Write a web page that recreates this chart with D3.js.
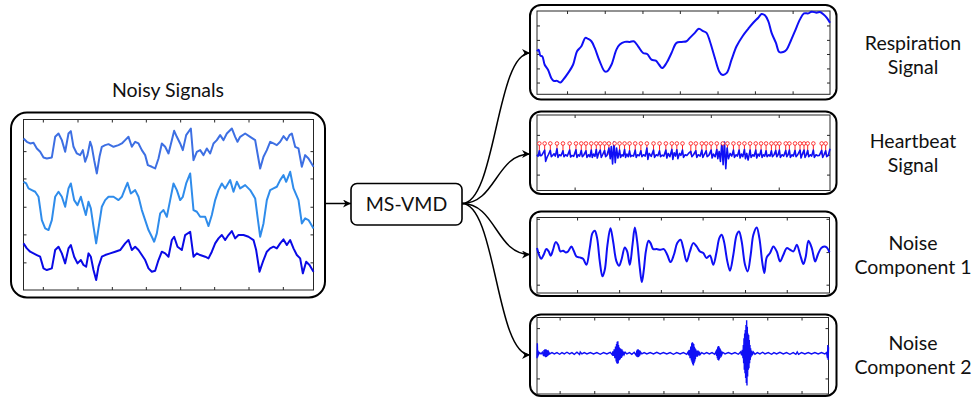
<!DOCTYPE html>
<html>
<head>
<meta charset="utf-8">
<script src="https://cdn.jsdelivr.net/npm/d3@7"></script>
<style>
  body { margin: 0; background: #fff; }
  svg { display: block; }
  text { font-family: Lato, "Open Sans", sans-serif; fill: #111; }
</style>
</head>
<body>
<svg id="chart" width="974" height="397"></svg>
<script>
// ---- data (arbitrary units, sample index on x) ----

// noisy input signals (left panel)
const noisyTicksX = [128, 232, 335, 437, 540, 642, 745, 848];
const noisyTicksY = [83, 167, 250, 335, 417];
const noisy1 = [[70,455],[80,445],[90,440],[100,442],[110,425],[120,415],[130,398],[140,395],[155,398],[165,460],[175,470],[185,450],[195,415],[205,470],[212,477],[220,430],[230,410],[240,405],[248,420],[255,385],[262,405],[270,445],[275,430],[282,390],[290,350],[298,400],[305,430],[315,435],[325,438],[340,430],[355,435],[365,440],[375,450],[385,460],[395,430],[405,445],[415,440],[425,420],[435,405],[443,375],[455,370],[465,365],[475,395],[485,440],[495,430],[505,410],[515,450],[522,478],[530,460],[540,440],[548,420],[558,465],[572,485],[580,390],[590,415],[600,420],[610,405],[620,425],[630,410],[640,440],[650,450],[660,465],[670,450],[680,470],[695,485],[705,460],[712,445],[720,460],[735,470],[750,460],[765,450],[772,410],[780,365],[790,400],[800,420],[810,445],[820,440],[830,435],[840,445],[850,462],[860,450],[868,465],[875,470],[885,430],[895,425],[905,370],[915,405],[925,395],[940,370]];
const noisy2 = [[70,325],[78,320],[85,305],[95,300],[105,295],[115,280],[125,210],[135,185],[145,180],[155,210],[165,280],[175,295],[185,280],[195,250],[205,305],[212,320],[222,270],[232,255],[242,280],[250,250],[257,225],[265,265],[272,245],[280,190],[288,140],[295,185],[305,250],[315,270],[325,280],[340,280],[355,270],[365,280],[375,305],[382,322],[392,290],[405,300],[415,280],[425,240],[435,210],[445,180],[455,160],[462,145],[470,170],[480,230],[490,240],[500,220],[510,270],[520,320],[530,300],[540,270],[548,280],[558,320],[570,350],[580,240],[590,235],[600,220],[615,220],[625,192],[635,225],[645,270],[655,300],[665,320],[675,305],[690,330],[700,295],[710,325],[720,305],[735,315],[750,300],[765,275],[772,220],[780,160],[790,200],[800,270],[810,300],[820,305],[830,310],[840,330],[850,345],[858,325],[870,355],[880,305],[895,270],[905,200],[915,215],[925,210],[940,185]];
const noisy3 = [[70,140],[80,125],[90,115],[100,110],[110,105],[120,100],[130,65],[140,60],[155,65],[165,120],[175,130],[185,110],[195,80],[205,125],[212,135],[222,100],[232,80],[242,90],[250,75],[258,70],[265,110],[272,100],[280,60],[288,30],[295,70],[305,100],[315,105],[330,110],[345,115],[360,120],[375,140],[385,150],[395,120],[405,130],[415,120],[425,105],[435,90],[445,65],[455,55],[465,58],[475,90],[485,115],[495,110],[505,100],[515,150],[522,160],[532,130],[545,120],[555,165],[570,175],[580,100],[590,110],[600,105],[615,100],[625,95],[635,115],[645,140],[655,155],[665,165],[675,150],[685,165],[695,177],[705,155],[715,165],[730,165],[745,160],[760,150],[768,120],[778,55],[790,90],[800,115],[810,125],[820,130],[830,125],[840,140],[850,152],[860,135],[870,150],[880,125],[890,105],[900,95],[908,50],[918,85],[928,75],[940,55]];

// respiration signal
const respTicksX = [142, 255, 368, 480, 593, 705, 818];
const respTicksY = [35, 77, 120, 162, 205];
const resp = [[52,128],[57,133],[62,115],[68,113],[75,88],[85,73],[95,48],[102,40],[112,40],[122,35],[130,43],[145,63],[160,88],[172,128],[185,143],[197,168],[205,165],[215,158],[225,138],[240,98],[255,68],[262,68],[275,88],[290,133],[300,148],[315,156],[330,156],[342,158],[355,143],[370,123],[382,120],[395,103],[408,100],[418,88],[427,78],[440,93],[455,123],[470,153],[485,156],[500,158],[510,168],[525,183],[537,195],[550,188],[560,183],[570,158],[585,108],[598,68],[607,58],[620,63],[635,103],[650,143],[668,173],[685,195],[700,213],[715,228],[725,239],[735,235],[745,218],[755,183],[768,153],[778,126],[790,126],[800,133],[812,158],[825,188],[840,223],[852,241],[865,241],[875,246],[890,243],[900,245],[910,238],[920,228],[930,213]];

// heartbeat signal and detected peaks
const heartTicksX = [163, 368, 572, 776];
const heartTicksY = [-60, 0, 60];
const heart = [[50,0],[53,-5],[57,12],[60,-3],[64,-2],[68,5],[73,14],[76,-20],[80,-8],[84,0],[90,13],[93,-6],[97,-2],[101,3],[105,-4],[110,18],[113,-8],[117,0],[122,-3],[128,12],[131,-6],[136,0],[141,-4],[148,14],[151,-7],[155,-2],[160,-5],[167,15],[170,-8],[174,0],[178,-4],[183,13],[186,-6],[190,-2],[197,12],[200,-8],[205,0],[209,-6],[213,14],[216,-8],[220,2],[224,-5],[228,16],[231,-10],[235,4],[240,14],[243,-8],[247,0],[253,13],[256,-6],[260,-2],[263,8],[266,20],[270,-12],[273,25],[277,-28],[281,38],[285,-24],[289,20],[293,-10],[298,14],[301,-8],[305,0],[309,-4],[313,16],[316,-8],[320,2],[324,-6],[328,12],[331,-6],[335,-2],[340,-4],[345,14],[348,-8],[352,0],[357,-3],[362,12],[365,-6],[370,0],[375,-4],[380,20],[383,-14],[387,4],[393,-5],[400,14],[403,-8],[408,0],[413,-3],[418,12],[421,-6],[426,-1],[431,-4],[437,14],[440,-10],[444,4],[449,-6],[455,16],[458,-14],[462,6],[466,-4],[470,15],[473,-12],[478,4],[482,-2],[487,14],[490,-8],[495,0],[500,-2],[505,4],[512,10],[515,-6],[520,0],[527,12],[530,-8],[534,0],[540,-4],[545,14],[548,-8],[552,0],[558,12],[561,-6],[566,-2],[573,14],[576,-10],[580,2],[585,-6],[590,16],[593,-12],[597,10],[601,-20],[605,36],[609,-30],[613,38],[617,-42],[621,20],[625,-12],[630,4],[635,-4],[640,14],[643,-8],[648,0],[652,-4],[657,14],[660,-10],[664,2],[668,-6],[673,16],[676,-12],[680,4],[684,-16],[690,14],[693,-8],[698,0],[702,-4],[707,14],[710,-10],[714,2],[718,-4],[723,14],[726,-8],[730,0],[734,-4],[738,12],[741,-6],[746,0],[750,-4],[754,12],[757,-6],[762,0],[767,13],[770,-6],[774,0],[778,14],[781,-8],[786,0],[791,-4],[797,13],[800,-6],[804,0],[808,14],[811,-8],[816,0],[820,-4],[825,13],[828,-6],[833,0],[840,14],[843,-10],[847,2],[852,14],[855,-8],[859,0],[863,13],[866,-6],[871,0],[875,-4],[880,14],[883,-8],[888,0],[893,-3],[898,-2],[905,13],[908,-8],[912,0],[917,12],[920,-6],[925,-2],[930,18]];
const peaks = [57,73,90,110,128,148,167,183,197,213,228,240,253,266,283,298,313,328,345,362,380,400,418,437,455,470,487,512,527,545,558,573,590,608,622,640,657,673,690,707,723,738,754,767,778,797,808,825,840,852,863,880,905,917];
const peakLevel = 34;

// noise component 1
const nc1TicksX = [172, 298, 423, 548, 675, 800];
const nc1TicksY = [-98, 0, 100];
const nc1 = [[52,12],[58,-8],[65,-20],[72,-8],[80,9],[87,2],[93,-11],[100,7],[108,30],[115,22],[122,2],[130,4],[138,-1],[145,2],[155,17],[162,4],[170,-13],[180,-16],[190,-20],[200,-38],[210,12],[218,57],[225,64],[232,42],[240,-28],[248,-73],[255,-53],[263,22],[272,72],[280,32],[290,-28],[298,-41],[305,-23],[315,14],[322,2],[330,-38],[338,22],[345,74],[352,32],[360,-48],[366,-90],[372,-53],[378,2],[386,34],[392,27],[400,9],[410,9],[422,7],[432,9],[442,-8],[452,-30],[462,-8],[472,27],[482,37],[490,12],[500,-28],[510,2],[520,27],[530,17],[540,2],[550,-3],[560,-18],[570,-10],[580,-38],[590,2],[598,42],[605,52],[612,32],[622,-28],[630,-56],[640,-8],[650,52],[657,62],[665,32],[675,-38],[683,-58],[692,-8],[700,52],[710,74],[718,42],[727,-33],[733,-63],[740,-16],[750,-3],[760,17],[770,2],[780,-28],[790,-8],[800,12],[810,7],[820,2],[830,22],[840,-8],[850,-36],[857,-13],[865,34],[875,12],[885,-28],[893,-8],[903,12],[912,17],[920,14],[928,-1]];

// noise component 2
const nc2TicksX = [118, 222, 325, 430, 535, 638, 742, 845];
const nc2TicksY = [-76, 76];
const nc2 = [[50,-15],[51,30],[52,-12],[53,8],[55,-3],[58,2],[62,-2],[66,3],[70,-8],[71,10],[72,-9],[73,11],[74,-10],[75,12],[76,-12],[77,12],[78,-11],[79,10],[80,-10],[81,9],[82,-8],[83,7],[84,-6],[85,4],[88,-2],[95,2],[102,-2],[110,2],[118,-3],[125,2],[132,-2],[140,3],[148,-2],[155,2],[162,-3],[170,3],[178,-4],[180,4],[185,-2],[192,2],[200,-2],[210,2],[220,-2],[230,2],[240,-3],[250,2],[260,-2],[270,3],[276,-4],[278,6],[280,-8],[282,12],[284,-15],[286,20],[288,-25],[289,28],[290,-30],[291,35],[292,-32],[293,36],[294,-30],[295,25],[296,-22],[297,18],[298,-20],[299,15],[300,-18],[301,14],[302,-12],[303,10],[304,-14],[305,12],[306,-10],[307,8],[308,-6],[310,5],[312,-4],[315,3],[320,-2],[328,2],[335,-3],[342,3],[348,-6],[350,8],[351,-10],[352,11],[353,-12],[354,12],[355,-11],[356,10],[357,-9],[358,8],[359,-6],[361,4],[365,-2],[372,2],[380,-2],[390,2],[400,-2],[410,3],[420,-2],[430,2],[440,-2],[450,2],[460,-3],[470,2],[480,-2],[490,2],[500,-3],[504,4],[506,-6],[508,10],[510,-15],[512,20],[514,-22],[515,30],[516,-28],[517,33],[518,-33],[519,30],[520,-37],[521,28],[522,-30],[523,20],[524,-25],[525,15],[526,-18],[527,12],[528,-10],[530,8],[532,-10],[534,8],[536,-6],[538,5],[540,-4],[545,2],[552,-2],[560,2],[568,-2],[576,2],[584,-3],[588,5],[590,-8],[591,12],[592,-15],[593,18],[594,-20],[595,22],[596,-22],[597,20],[598,-18],[599,16],[600,-14],[601,12],[602,-10],[603,8],[605,-5],[608,3],[615,-2],[625,2],[635,-2],[645,2],[655,-3],[662,4],[665,-6],[667,10],[669,-15],[670,25],[671,-30],[672,45],[673,-50],[674,60],[675,-60],[676,70],[677,-75],[678,85],[679,-90],[680,100],[681,-97],[682,80],[683,-70],[684,60],[685,-50],[686,55],[687,-45],[688,40],[689,-30],[690,25],[691,-20],[692,15],[693,-12],[695,8],[697,-6],[700,4],[705,-3],[712,2],[720,-2],[728,3],[735,-2],[745,2],[755,-3],[762,2],[770,-2],[780,3],[790,-2],[800,2],[810,-3],[820,2],[828,-3],[832,4],[836,-3],[845,2],[855,-2],[865,2],[875,-2],[885,2],[895,-2],[905,2],[915,-2],[920,2],[923,-15],[924,25],[925,-20],[926,18]];

const labels = [["Respiration", "Signal"], ["Heartbeat", "Signal"], ["Noise", "Component 1"], ["Noise", "Component 2"]];

// ---- drawing ----
const svg = d3.select("#chart");

svg.append("defs").append("marker")
  .attr("id", "arrow")
  .attr("viewBox", "0 0 10 10")
  .attr("refX", 10).attr("refY", 5)
  .attr("markerWidth", 8).attr("markerHeight", 8)
  .attr("markerUnits", "userSpaceOnUse")
  .attr("orient", "auto")
  .append("path")
  .attr("d", "M0,0 L10,5 L0,10 L3,5 Z")
  .attr("fill", "#000");

function panel(p) {
  // rounded outer frame
  svg.append("rect")
    .attr("x", p.box[0]).attr("y", p.box[1])
    .attr("width", p.box[2] - p.box[0]).attr("height", p.box[3] - p.box[1])
    .attr("rx", p.r).attr("ry", p.r)
    .attr("fill", "#fff").attr("stroke", "#000").attr("stroke-width", 2);

  const x = d3.scaleLinear().domain(p.xDomain).range([p.ax[0], p.ax[2]]);
  const y = d3.scaleLinear().domain(p.yDomain).range([p.ax[3], p.ax[1]]);

  const g = svg.append("g");
  const tl = 3;
  const axes = [
    [d3.axisBottom(x).tickValues(p.ticksX), `translate(0,${p.ax[3]})`],
    [d3.axisTop(x).tickValues(p.ticksX), `translate(0,${p.ax[1]})`],
    [d3.axisLeft(y).tickValues(p.ticksY), `translate(${p.ax[0]},0)`],
    [d3.axisRight(y).tickValues(p.ticksY), `translate(${p.ax[2]},0)`]
  ];
  axes.forEach(([a, t]) => {
    const ag = g.append("g").attr("transform", t)
      .call(a.tickSizeInner(-tl).tickSizeOuter(0).tickFormat(""));
    ag.select(".domain").remove();
    ag.selectAll("line").attr("stroke", "#262626");
  });

  g.append("rect")
    .attr("x", p.ax[0]).attr("y", p.ax[1])
    .attr("width", p.ax[2] - p.ax[0]).attr("height", p.ax[3] - p.ax[1])
    .attr("fill", "none").attr("stroke", "#262626").attr("stroke-width", 1);

  return { x, y, g };
}

// left panel with three noisy signals
const left = panel({
  box: [11, 112.5, 325, 297.5], r: 16,
  ax: [23.5, 119.5, 313.5, 290],
  xDomain: [70, 940], yDomain: [0, 512],
  ticksX: noisyTicksX, ticksY: noisyTicksY
});
const lineL = d3.line().x(d => left.x(d[0])).y(d => left.y(d[1]));
[[noisy1, "#3d6fe3"], [noisy2, "#2f8ceb"], [noisy3, "#0a0ae6"]].forEach(([s, c]) => {
  left.g.append("path").datum(s)
    .attr("d", lineL).attr("fill", "none")
    .attr("stroke", c).attr("stroke-width", 2).attr("stroke-linejoin", "round");
});

svg.append("text")
  .attr("x", 168).attr("y", 97)
  .attr("text-anchor", "middle").attr("font-size", 19.5)
  .text("Noisy Signals");

// MS-VMD block
svg.append("rect")
  .attr("x", 351).attr("y", 183.5).attr("width", 111).attr("height", 41.5)
  .attr("rx", 6).attr("ry", 6)
  .attr("fill", "#fff").attr("stroke", "#000").attr("stroke-width", 1.6);
svg.append("text")
  .attr("x", 406.5).attr("y", 211)
  .attr("text-anchor", "middle").attr("font-size", 19.5)
  .text("MS-VMD");

svg.append("line")
  .attr("x1", 326).attr("y1", 203.5).attr("x2", 351).attr("y2", 203.5)
  .attr("stroke", "#000").attr("stroke-width", 1.5)
  .attr("marker-end", "url(#arrow)");

// right-hand panels
const boxes = [
  { box: [530, 5, 836.5, 99.5], ax: [537, 11, 830, 94.3], yDomain: [0, 248], xDomain: [52, 930], ticksX: respTicksX, ticksY: respTicksY },
  { box: [530, 111.5, 836.5, 194], ax: [537, 115, 830, 190.5], yDomain: [-108, 120], xDomain: [50, 930], ticksX: heartTicksX, ticksY: heartTicksY },
  { box: [530, 211.5, 836.5, 296], ax: [537, 217.5, 829.5, 293], yDomain: [-123, 104], xDomain: [52, 928], ticksX: nc1TicksX, ticksY: nc1TicksY },
  { box: [530, 314.5, 836.5, 396], ax: [537, 317.5, 828.5, 394], yDomain: [-123, 108], xDomain: [50, 926], ticksX: nc2TicksX, ticksY: nc2TicksY }
];

const targetsY = [53, 154, 254.5, 355];
const link = d3.linkHorizontal();
targetsY.forEach(ty => {
  svg.append("path")
    .attr("d", link({ source: [462, 203.5], target: [530, ty] }))
    .attr("fill", "none").attr("stroke", "#000").attr("stroke-width", 1.5)
    .attr("marker-end", "url(#arrow)");
});

const blue = "#0f0ff5";
const panels = boxes.map(b => panel(Object.assign({ r: 11 }, b)));

// respiration
panels[0].g.append("path").datum(resp)
  .attr("d", d3.line().x(d => panels[0].x(d[0])).y(d => panels[0].y(d[1])).curve(d3.curveCatmullRom))
  .attr("fill", "none").attr("stroke", blue).attr("stroke-width", 2);

// heartbeat with stems
const hb = panels[1];
hb.g.selectAll(".stem").data(peaks).enter().append("line")
  .attr("class", "stem")
  .attr("x1", d => hb.x(d)).attr("x2", d => hb.x(d))
  .attr("y1", hb.y(0)).attr("y2", hb.y(peakLevel))
  .attr("stroke", "#ff2020").attr("stroke-width", 1);
hb.g.append("path").datum(heart)
  .attr("d", d3.line().x(d => hb.x(d[0])).y(d => hb.y(d[1])))
  .attr("fill", "none").attr("stroke", blue).attr("stroke-width", 1.6).attr("stroke-linejoin", "round");
hb.g.selectAll(".pk").data(peaks).enter().append("circle")
  .attr("class", "pk")
  .attr("cx", d => hb.x(d)).attr("cy", hb.y(peakLevel)).attr("r", 1.8)
  .attr("fill", "#fff").attr("stroke", "#ff2020").attr("stroke-width", 0.9);

// noise component 1
panels[2].g.append("path").datum(nc1)
  .attr("d", d3.line().x(d => panels[2].x(d[0])).y(d => panels[2].y(d[1])).curve(d3.curveCatmullRom))
  .attr("fill", "none").attr("stroke", blue).attr("stroke-width", 2);

// noise component 2
panels[3].g.append("path").datum(nc2)
  .attr("d", d3.line().x(d => panels[3].x(d[0])).y(d => panels[3].y(d[1])))
  .attr("fill", "none").attr("stroke", blue).attr("stroke-width", 1.4);

// labels
const labelBase = [50, 148, 250, 350];
labels.forEach((l, i) => {
  const t = svg.append("text")
    .attr("x", 913).attr("y", labelBase[i])
    .attr("text-anchor", "middle").attr("font-size", 19.5);
  l.forEach((s, j) => t.append("tspan").attr("x", 913).attr("dy", j ? 24 : 0).text(s));
});
</script>
</body>
</html>
